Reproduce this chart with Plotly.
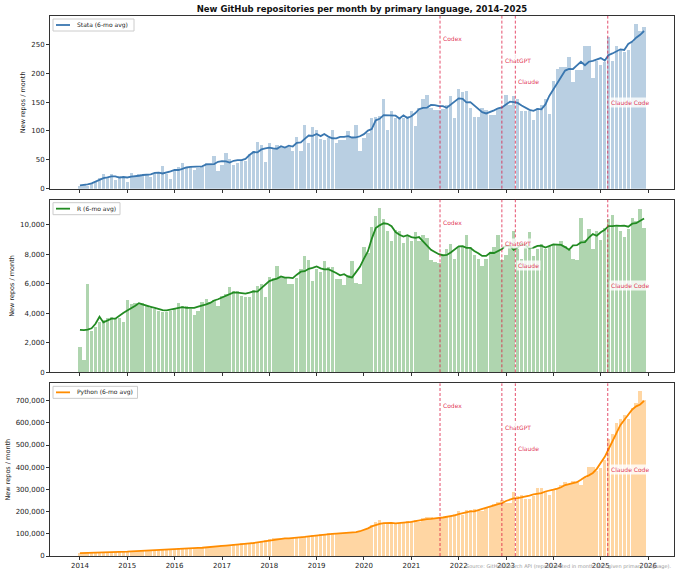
import pandas as pd
import plotly.graph_objects as go
from plotly.subplots import make_subplots

# monthly counts, Jan 2014 .. Dec 2025 (one row per year)
months = pd.date_range("2014-01-01", "2025-12-01", freq="MS")

stata = [
    5, 7, 5, 8, 12, 18, 26, 20, 26, 15, 22, 19,
    12, 27, 21, 25, 24, 25, 20, 27, 28, 40, 26, 17,
    30, 38, 45, 38, 37, 32, 36, 38, 45, 44, 57, 31,
    41, 61, 52, 41, 45, 50, 48, 60, 66, 81, 76, 46,
    79, 70, 75, 72, 73, 72, 66, 90, 65, 110, 79, 107,
    102, 86, 85, 87, 101, 80, 85, 85, 100, 87, 110, 65,
    87, 96, 122, 124, 126, 156, 102, 135, 122, 122, 122, 126,
    135, 108, 140, 155, 162, 140, 137, 137, 138, 145, 161, 123,
    173, 167, 170, 140, 125, 125, 140, 137, 128, 127, 140, 142,
    162, 145, 160, 155, 135, 135, 135, 119, 140, 145, 155, 130,
    187, 207, 210, 210, 229, 185, 205, 205, 248, 248, 192, 222,
    214, 220, 262, 222, 248, 240, 237, 240, 255, 285, 273, 280,
]

r_lang = [
    1750, 850, 6020, 2800, 3070, 3410, 3570, 3700, 3750, 3700, 3700, 3410,
    4930, 4660, 4700, 4550, 4700, 4500, 4400, 4300, 4200, 4100, 4100, 4200,
    4300, 4700, 4500, 4500, 4300, 3900, 4200, 4800, 5000, 4800, 4900, 4500,
    5200, 5300, 5800, 5500, 5500, 5200, 5100, 5100, 5600, 5900, 6000, 5100,
    6500, 6400, 7200, 6500, 6400, 6000, 6000, 6400, 7000, 7900, 7600, 6200,
    7000, 6800, 7550, 7140, 7140, 6320, 6320, 5930, 6590, 7590, 6100, 6040,
    8480, 8100, 9900, 10600, 11140, 10400, 9610, 8930, 9680, 9600, 8800, 9300,
    8900, 9500, 8900, 9300, 9100, 7600, 7500, 7400, 8000, 8400, 8700, 7700,
    8500, 8600, 9300, 8500, 8000, 7700, 7200, 7700, 8200, 8500, 9300, 7600,
    8000, 8500, 9600, 8400, 7700, 8500, 9500, 7900, 8400, 8700, 8400, 8600,
    8700, 8700, 8900, 8600, 8300, 7700, 7600, 10500, 9000, 9700, 8400, 9600,
    9000, 9800, 10400, 10700, 9900, 9600, 9200, 9700, 10500, 10300, 11100, 9800,
]

# thousands
python_k = [
    12, 13, 13, 14, 14, 15, 15, 15, 16, 17, 18, 19,
    20, 21, 22, 23, 24, 25, 25, 25, 26, 27, 28, 30,
    32, 33, 35, 36, 36, 36, 36, 37, 38, 40, 42, 44,
    47, 48, 50, 52, 54, 55, 55, 56, 58, 62, 66, 70,
    76, 78, 80, 79, 78, 79, 80, 82, 85, 88, 90, 92,
    94, 96, 98, 100, 101, 102, 102, 104, 105, 106, 108, 110,
    115, 125, 140, 150, 162, 148, 146, 145, 147, 148, 150, 155,
    158, 162, 150, 170, 172, 173, 171, 170, 172, 175, 180, 188,
    200, 184, 205, 205, 210, 205, 200, 215, 225, 235, 240, 252,
    237, 237, 287, 270, 275, 257, 257, 270, 304, 305, 290, 275,
    300, 305, 320, 334, 325, 335, 330, 320, 351, 398, 400, 381,
    395, 431, 525, 550, 597, 615, 632, 618, 665, 690, 741, 700,
]
python = [v * 1000 for v in python_k]

event_names = ["Codex", "ChatGPT", "Claude", "Claude Code"]
event_dates = ["2021-08-10", "2022-11-30", "2023-03-14", "2025-02-24"]
event_label_y = [0.87, 0.745, 0.62, 0.5]

panels = [
    ("Stata", stata, "#3a77b0", "rgba(70,130,180,0.38)", 50, ""),
    ("R", r_lang, "#228b22", "rgba(34,139,34,0.36)", 2000, ",d"),
    ("Python", python, "#ff8c00", "rgba(255,140,0,0.36)", 100000, ",d"),
]

W, H = 680, 576
M = dict(l=50, r=6, t=16, b=20)
plot_w = W - M["l"] - M["r"]
vspace = 0.0204
panel_h = (H - M["t"] - M["b"]) * (1 - 2 * vspace) / 3

fig = make_subplots(rows=3, cols=1, shared_xaxes=True, vertical_spacing=vspace)

for i, (name, vals, line_col, bar_col, step, fmt) in enumerate(panels, start=1):
    s = pd.Series(vals, index=months)
    # 6-month centred rolling mean
    smooth = s.rolling(6, center=True, min_periods=1).mean()
    label = f"{name} (6-mo avg)"

    fig.add_trace(go.Bar(
        x=months, y=vals, marker_color=bar_col, marker_line_width=0,
        width=26 * 24 * 3600 * 1000, showlegend=False, hoverinfo="skip",
    ), row=i, col=1)
    fig.add_trace(go.Scatter(
        x=months, y=smooth, mode="lines", line=dict(color=line_col, width=1.8),
        name=label, showlegend=False,
    ), row=i, col=1)

    fig.update_yaxes(range=[0, max(vals) * 1.05], dtick=step, tickformat=fmt,
                     title=dict(text="New repos / month", font=dict(size=6.5), standoff=4),
                     row=i, col=1)

    xref = "x domain" if i == 1 else f"x{i} domain"
    yref = "y domain" if i == 1 else f"y{i} domain"

    # small matplotlib-style legend box in the top-left corner
    px = lambda p: p / plot_w
    py = lambda p: 1 - p / panel_h
    box_w = 25 + 3.5 * len(label)
    fig.add_shape(type="rect", xref=xref, yref=yref, x0=px(3), x1=px(3 + box_w),
                  y0=py(15), y1=py(3), fillcolor="rgba(255,255,255,0.85)",
                  line=dict(color="#cccccc", width=1), layer="above")
    fig.add_shape(type="line", xref=xref, yref=yref, x0=px(6), x1=px(20),
                  y0=py(9), y1=py(9), line=dict(color=line_col, width=1.8), layer="above")
    fig.add_annotation(x=px(25), y=py(9), xref=xref, yref=yref, text=label,
                       showarrow=False, xanchor="left", yanchor="middle",
                       font=dict(size=6, color="#222"))

    for ev, d, ly in zip(event_names, event_dates, event_label_y):
        fig.add_shape(type="line", xref="x", yref=yref, x0=d, x1=d, y0=0, y1=1,
                      line=dict(color="rgba(220,20,60,0.75)", width=1, dash="3px,2px"))
        fig.add_annotation(x=d, y=ly, xref="x", yref=yref, text=ev, showarrow=False,
                           xanchor="left", yanchor="middle", xshift=1,
                           font=dict(size=6, color="rgba(220,20,60,0.9)"),
                           bgcolor="rgba(255,255,255,0.8)", borderpad=1)

axis_style = dict(showline=True, mirror=True, linecolor="#333", linewidth=1,
                  ticks="outside", ticklen=3, tickcolor="#333", showgrid=False,
                  zeroline=False, tickfont=dict(size=7, color="#222"))
fig.update_xaxes(**axis_style, type="date", range=["2013-05-15", "2026-07-20"],
                 dtick="M12", tick0="2014-01-01", tickformat="%Y")
fig.update_yaxes(**axis_style)

fig.add_annotation(text="Source: GitHub Search API (repos created in month with given primary language).",
                   xref="paper", yref="paper", x=1, y=-0.019, xanchor="right", yanchor="middle",
                   showarrow=False, font=dict(size=5, color="#999"))

fig.update_layout(
    width=W, height=H,
    margin=M,
    paper_bgcolor="white", plot_bgcolor="white",
    font=dict(family="DejaVu Sans", color="#222"),
    bargap=0,
    showlegend=False,
    title=dict(text="<b>New GitHub repositories per month by primary language, 2014–2025</b>",
               x=0.5, xref="paper", y=0.984, yref="container", yanchor="middle",
               font=dict(size=8.5, color="#111")),
)

# drop the browser's default body margin so the figure sits at the page corner
fig.write_html("out.html", config={"displayModeBar": False},
               post_script="document.body.style.margin='0';")
